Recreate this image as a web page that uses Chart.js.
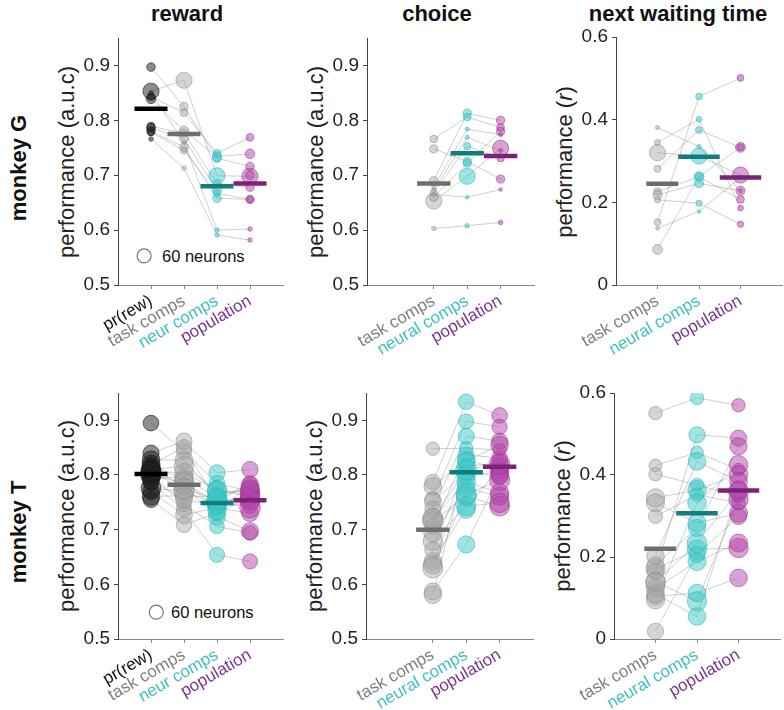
<!DOCTYPE html>
<html>
<head>
<meta charset="utf-8">
<script src="https://cdn.jsdelivr.net/npm/chart.js@4.4.0/dist/chart.umd.min.js"></script>
<style>
  body { margin: 0; background: #fff; width: 784px; height: 710px; position: relative; overflow: hidden;
         font-family: "Liberation Sans", Arial, sans-serif; }
  canvas { position: absolute; }
  .t { position: absolute; white-space: nowrap; color: #111; }
  .col { font-weight: bold; font-size: 22px; transform: translate(-50%, -50%); }
  .row { font-weight: bold; font-size: 22px; transform: translate(-50%, -50%) rotate(-90deg); }
  .yl { font-size: 22px; color: #222; transform: translate(-50%, -50%) rotate(-90deg); }
  .leg { font-size: 16.5px; color: #111; transform: translateY(-50%); }
</style>
</head>
<body>
<div class="t col" style="left:187px; top:14px">reward</div>
<div class="t col" style="left:437px; top:14px">choice</div>
<div class="t col" style="left:678px; top:14px">next waiting time</div>
<div class="t row" style="left:19px; top:168px">monkey G</div>
<div class="t row" style="left:19px; top:532px">monkey T</div>
<div class="t yl" style="left:67px; top:162px">performance (a.u.c)</div>
<div class="t yl" style="left:316px; top:162px">performance (a.u.c)</div>
<div class="t yl" style="left:565px; top:162px">performance (<i>r</i>)</div>
<div class="t yl" style="left:67px; top:516px">performance (a.u.c)</div>
<div class="t yl" style="left:315px; top:516px">performance (a.u.c)</div>
<div class="t yl" style="left:563px; top:516px">performance (<i>r</i>)</div>
<div class="t leg" style="left:162px; top:256px">60 neurons</div>
<div class="t leg" style="left:171px; top:612px">60 neurons</div>
<script>
const FONT = '"Liberation Sans", Arial, sans-serif';

// category labels and ticks
const namesRew = ['pr(rew)', 'task comps', 'neur comps', 'population'];
const namesOther = ['task comps', 'neural comps', 'population'];
const yTicksAuc = [0.5, 0.6, 0.7, 0.8, 0.9];
const yTicksR = [0, 0.2, 0.4, 0.6];

// monkey G - reward (one entry per session)
const gRewPr   = [0.853, 0.897, 0.843, 0.839, 0.850, 0.789, 0.786, 0.780, 0.766, 0.778];
const gRewTask = [0.873, 0.825, 0.814, 0.781, 0.760, 0.777, 0.767, 0.751, 0.713, 0.745];
const gRewNeur = [0.699, 0.731, 0.740, 0.734, 0.600, 0.685, 0.672, 0.658, 0.591, 0.667];
const gRewPop  = [0.698, 0.716, 0.769, 0.739, 0.602, 0.678, 0.700, 0.656, 0.582, 0.656];
const gRewN    = [80, 22, 18, 28, 6, 20, 24, 22, 6, 14];
const gRewMean = [0.821, 0.775, 0.680, 0.685];

// monkey G - choice
const gChoTask = [0.653, 0.766, 0.748, 0.690, 0.679, 0.673, 0.668, 0.660, 0.665, 0.603];
const gChoNeur = [0.698, 0.806, 0.725, 0.813, 0.784, 0.769, 0.753, 0.722, 0.660, 0.608];
const gChoPop  = [0.749, 0.787, 0.693, 0.800, 0.774, 0.745, 0.731, 0.780, 0.674, 0.614];
const gChoN    = [80, 18, 20, 22, 5, 5, 16, 20, 4, 6];
const gChoMean = [0.685, 0.740, 0.735];

// monkey G - next waiting time
const gWaitTask = [0.320, 0.381, 0.345, 0.281, 0.226, 0.218, 0.206, 0.152, 0.137, 0.086];
const gWaitNeur = [0.312, 0.335, 0.401, 0.375, 0.262, 0.246, 0.198, 0.456, 0.178, 0.262];
const gWaitPop  = [0.266, 0.228, 0.186, 0.333, 0.207, 0.228, 0.147, 0.501, 0.260, 0.333];
const gWaitN    = [80, 5, 10, 15, 18, 25, 12, 14, 4, 30];
const gWaitMean = [0.245, 0.310, 0.260];

// monkey T - reward
const tRewPr   = [0.895, 0.840, 0.828, 0.819, 0.813, 0.807, 0.801, 0.795, 0.785, 0.776, 0.770, 0.761, 0.755, 0.810, 0.800, 0.790, 0.820, 0.805];
const tRewTask = [0.843, 0.862, 0.827, 0.851, 0.779, 0.804, 0.746, 0.795, 0.737, 0.770, 0.727, 0.762, 0.709, 0.816, 0.785, 0.755, 0.790, 0.775];
const tRewNeur = [0.785, 0.804, 0.764, 0.752, 0.724, 0.773, 0.706, 0.758, 0.654, 0.746, 0.740, 0.760, 0.730, 0.770, 0.750, 0.745, 0.735, 0.755];
const tRewPop  = [0.770, 0.810, 0.776, 0.785, 0.697, 0.761, 0.694, 0.752, 0.642, 0.765, 0.730, 0.775, 0.760, 0.770, 0.755, 0.745, 0.780, 0.740];
const tRewN    = [75, 80, 95, 70, 90, 110, 65, 100, 70, 120, 85, 95, 75, 115, 125, 85, 100, 130];
const tRewMean = [0.802, 0.782, 0.749, 0.754];

// monkey T - choice
const tChoTask = [0.848, 0.787, 0.779, 0.756, 0.752, 0.737, 0.721, 0.715, 0.706, 0.694, 0.679, 0.663, 0.642, 0.636, 0.630, 0.587, 0.581, 0.720];
const tChoNeur = [0.849, 0.934, 0.828, 0.898, 0.804, 0.871, 0.788, 0.761, 0.837, 0.776, 0.743, 0.816, 0.737, 0.800, 0.765, 0.673, 0.825, 0.810];
const tChoPop  = [0.846, 0.909, 0.810, 0.888, 0.798, 0.862, 0.767, 0.743, 0.831, 0.761, 0.749, 0.822, 0.815, 0.805, 0.790, 0.800, 0.855, 0.820];
const tChoN    = [55, 75, 95, 70, 90, 80, 105, 120, 75, 100, 115, 80, 95, 105, 125, 90, 95, 130];
const tChoMean = [0.700, 0.805, 0.815];

// monkey T - next waiting time
const tWaitTask = [0.551, 0.423, 0.402, 0.344, 0.332, 0.299, 0.202, 0.171, 0.165, 0.137, 0.124, 0.104, 0.096, 0.019, 0.180, 0.140, 0.110];
const tWaitNeur = [0.588, 0.455, 0.376, 0.364, 0.283, 0.352, 0.433, 0.218, 0.498, 0.234, 0.189, 0.112, 0.332, 0.206, 0.271, 0.092, 0.055];
const tWaitPop  = [0.570, 0.413, 0.348, 0.401, 0.307, 0.332, 0.385, 0.222, 0.490, 0.360, 0.234, 0.149, 0.425, 0.299, 0.470, 0.340, 0.364];
const tWaitN    = [55, 50, 55, 105, 100, 60, 95, 115, 80, 120, 100, 95, 105, 80, 90, 115, 95];
const tWaitMean = [0.220, 0.307, 0.362];

const palette = {
  pr:   { fill: 'rgba(30,30,30,0.5)',    edge: 'rgba(20,20,20,0.6)',    bar: '#000000', text: '#111111' },
  task: { fill: 'rgba(165,165,165,0.45)', edge: 'rgba(130,130,130,0.5)', bar: '#6e6e6e', text: '#7f7f7f' },
  neur: { fill: 'rgba(64,200,200,0.5)',  edge: 'rgba(40,180,180,0.55)', bar: '#117d7d', text: '#3fbfbf' },
  pop:  { fill: 'rgba(180,70,170,0.5)',  edge: 'rgba(150,50,145,0.55)', bar: '#7a2378', text: '#7b3590' }
};

// marker radius from neuron count (60 neurons -> 7 px), area proportional
const radius = n => 7 * Math.sqrt(n / 60);
const fmtAuc = v => v.toFixed(1);
const fmtR = v => (v === 0 ? '0' : v.toFixed(1));

const panels = [
  { area: [118, 38, 283, 285], xMax: 5, xs: [1, 2, 3, 4], names: namesRew, keys: ['pr', 'task', 'neur', 'pop'],
    y: [0.5, 0.95], yTicks: yTicksAuc, fmt: fmtAuc, series: [gRewPr, gRewTask, gRewNeur, gRewPop], n: gRewN, means: gRewMean, legend: [0.79, 0.553] },
  { area: [367, 38, 534, 285], xMax: 5, xs: [2, 3, 4], names: namesOther, keys: ['task', 'neur', 'pop'],
    y: [0.5, 0.95], yTicks: yTicksAuc, fmt: fmtAuc, series: [gChoTask, gChoNeur, gChoPop], n: gChoN, means: gChoMean },
  { area: [616, 37, 782, 285], xMax: 4, xs: [1, 2, 3], names: namesOther, keys: ['task', 'neur', 'pop'],
    y: [0, 0.6], yTicks: yTicksR, fmt: fmtR, series: [gWaitTask, gWaitNeur, gWaitPop], n: gWaitN, means: gWaitMean, barL: [0.27, 0.5, 0.5] },
  { area: [118, 393, 283, 639], xMax: 5, xs: [1, 2, 3, 4], names: namesRew, keys: ['pr', 'task', 'neur', 'pop'],
    y: [0.5, 0.95], yTicks: yTicksAuc, fmt: fmtAuc, series: [tRewPr, tRewTask, tRewNeur, tRewPop], n: tRewN, means: tRewMean, legend: [1.16, 0.549] },
  { area: [366, 393, 533, 639], xMax: 5, xs: [2, 3, 4], names: namesOther, keys: ['task', 'neur', 'pop'],
    y: [0.5, 0.95], yTicks: yTicksAuc, fmt: fmtAuc, series: [tChoTask, tChoNeur, tChoPop], n: tChoN, means: tChoMean },
  { area: [614, 393, 780, 639], xMax: 4, xs: [1, 2, 3], names: namesOther, keys: ['task', 'neur', 'pop'],
    y: [0, 0.6], yTicks: yTicksR, fmt: fmtR, series: [tWaitTask, tWaitNeur, tWaitPop], n: tWaitN, means: tWaitMean, barL: [0.27, 0.5, 0.5] }
];

function makePanel(p) {
  const [L, T, R, B] = p.area;
  const cv = document.createElement('canvas');
  cv.width = R - L + 72;
  cv.height = B - T + 120;
  cv.style.left = (L - 60) + 'px';
  cv.style.top = (T - 30) + 'px';
  document.body.appendChild(cv);

  const datasets = [];
  // thin lines joining one session across categories
  p.n.forEach((n, s) => {
    datasets.push({
      type: 'line', data: p.xs.map((x, k) => ({ x: x, y: p.series[k][s] })),
      borderColor: 'rgba(120,120,120,0.45)', borderWidth: 0.8, pointRadius: 0, order: 3
    });
  });
  p.series.forEach((vals, k) => {
    const c = palette[p.keys[k]];
    datasets.push({
      type: 'bubble', data: vals.map((v, s) => ({ x: p.xs[k], y: v, r: radius(p.n[s]) })),
      backgroundColor: c.fill, borderColor: c.edge, borderWidth: 1, order: 2
    });
  });
  // mean bars
  p.means.forEach((m, k) => {
    const x = p.xs[k];
    const lo = p.barL ? p.barL[k] : 0.5;
    datasets.push({
      type: 'line', data: [{ x: x - lo, y: m }, { x: x + 0.5, y: m }],
      borderColor: palette[p.keys[k]].bar, borderWidth: 4.5, borderCapStyle: 'butt', pointRadius: 0, order: 1
    });
  });
  if (p.legend) {
    datasets.push({
      type: 'bubble', data: [{ x: p.legend[0], y: p.legend[1], r: radius(60) }],
      backgroundColor: 'rgba(0,0,0,0)', borderColor: '#777', borderWidth: 1.2, order: 0
    });
  }

  new Chart(cv, {
    type: 'bubble',
    data: { datasets: datasets },
    options: {
      responsive: false, animation: false, devicePixelRatio: 1, events: [],
      layout: { padding: { left: 0, top: 30, right: 12, bottom: 0 } },
      plugins: { legend: { display: false }, tooltip: { enabled: false } },
      scales: {
        x: {
          type: 'linear', min: 0, max: p.xMax,
          afterBuildTicks: s => { s.ticks = p.xs.map(v => ({ value: v })); },
          afterFit: s => { s.height = 90; },
          ticks: {
            autoSkip: false, minRotation: 30, maxRotation: 30, padding: 2,
            font: { size: 17, family: FONT },
            color: c => palette[p.keys[c.index]].text,
            callback: (v, i) => p.names[i]
          },
          grid: { drawOnChartArea: false, tickLength: 4, color: '#888' },
          border: { color: '#888', width: 1 }
        },
        y: {
          type: 'linear', min: p.y[0], max: p.y[1],
          afterBuildTicks: s => { s.ticks = p.yTicks.map(v => ({ value: v })); },
          afterFit: s => { s.width = 60; },
          ticks: { padding: 4, font: { size: 19, family: FONT }, color: '#222', callback: v => p.fmt(v) },
          grid: { drawOnChartArea: false, tickLength: 4, color: '#444' },
          border: { color: '#444', width: 1 }
        }
      }
    }
  });
}

panels.forEach(makePanel);
</script>
</body>
</html>
